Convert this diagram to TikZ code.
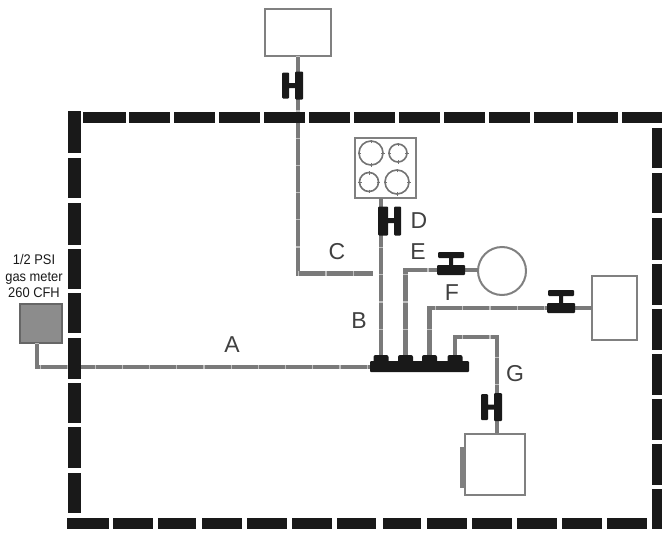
\documentclass[tikz,border=0pt]{standalone}
\usepackage{fontspec}
\setmainfont{Liberation Sans}
\newfontfamily\meterfont[FakeStretch=0.92]{Liberation Sans}
\tikzset{
    wallseg/.style={fill=black!90},
    pipe/.style={draw=black!52, line width=4.4pt, postaction={draw=black!25, dash pattern=on 1.2pt off 26pt}},
    appliance/.style={draw=black!50, line width=2pt, fill=white, inner sep=0pt, outer sep=0pt},
    burner/.style={circle, draw=black!55, line width=1.6pt, inner sep=0pt, outer sep=0pt},
    letter/.style={text=black!75, font=\fontsize{23}{23}\selectfont, inner sep=0pt},
    valvepart/.style={fill=black!90, rounded corners=1pt}
}
\newcommand{\valveup}[1]{\path[valvepart] ([shift={(-14,-5)}]#1) rectangle ([shift={(14,5)}]#1) ([shift={(-13,-18)}]#1) rectangle ([shift={(13,-12)}]#1) ([shift={(-2,-13)}]#1) rectangle ([shift={(2,-4)}]#1)}
\newcommand{\valveleft}[1]{\path[valvepart] ([shift={(-3,-14)}]#1) rectangle ([shift={(5,14)}]#1) ([shift={(-16,-13)}]#1) rectangle ([shift={(-9,13)}]#1) ([shift={(-10,-2.5)}]#1) rectangle ([shift={(-2,2.5)}]#1)}
\newcommand{\valveright}[1]{\path[valvepart] ([shift={(-4,-14)}]#1) rectangle ([shift={(6,15)}]#1) ([shift={(12,-14)}]#1) rectangle ([shift={(19,15)}]#1) ([shift={(5,-2.5)}]#1) rectangle ([shift={(13,2.5)}]#1)}
\begin{document}
\begin{tikzpicture}[x=1pt, y=-1pt]
                \useasboundingbox (0,0) rectangle (662,533);

                \node[appliance, minimum width=66pt, minimum height=47pt] (heater) at (298,32.5) {};
                \node[appliance, minimum width=61pt, minimum height=60pt] (range) at (385.5,168) {};
                \node[appliance, circle, minimum size=48pt] (dryer) at (502,271) {};
                \node[appliance, minimum width=45pt, minimum height=64pt] (furnace) at (614.5,308) {};
                \node[appliance, minimum width=60pt, minimum height=61pt] (waterheater) at (495,464.5) {};
                \node[appliance, draw=black!60, fill=black!45, minimum width=42pt, minimum height=39pt] (meter) at (41,323.5) {};
                \node[fill=black!90, rounded corners=1pt, minimum width=99pt, minimum height=11pt, inner sep=0pt] (manifold) at (419.5,366.5) {};

                \node[burner, minimum size=24pt] (burnera) at (371,153) {};
                \node[burner, minimum size=18pt] (burnerb) at (398,153) {};
                \node[burner, minimum size=19pt] (burnerc) at (369,182) {};
                \node[burner, minimum size=24pt] (burnerd) at (397,182) {};

                \coordinate (tapb) at (381,357);
                \coordinate (tape) at (405.5,357);
                \coordinate (tapf) at (429.5,357);
                \coordinate (tapg) at (455,357);
                \coordinate (bendc) at (298,273.5);
                \coordinate (endc) at (373,273.5);
                \coordinate (bende) at (405.5,270);
                \coordinate (bendf) at (429.5,308);
                \coordinate (bendga) at (455,337);
                \coordinate (bendgb) at (497,337);
                \coordinate (bendm) at (37,367);
                \coordinate (valveh) at (298,85.5);
                \coordinate (valved) at (382,220.5);
                \coordinate (valvee) at (451,270);
                \coordinate (valvef) at (561,308);
                \coordinate (valveg) at (497,407);

                \draw[pipe] (heater.south) -- (bendc) -- (endc);
                \draw[pipe] (tapb) -- (tapb |- range.south);
                \draw[pipe] (tape) -- (bende) -- (dryer.west |- bende);
                \draw[pipe] (tapf) -- (bendf) -- (furnace.west);
                \draw[pipe] (tapg) -- (bendga) -- (bendgb) -- (bendgb |- waterheater.north);
                \draw[pipe] (meter.south -| bendm) -- (bendm) -- (manifold.west |- bendm);

                \draw[appliance, fill=none] (waterheater.north west) rectangle (waterheater.south east);
                \draw[draw=black!50, line width=4.5pt] (462.5,447) -- (462.5,488);

                \foreach \tapname in {tapb, tape, tapf, tapg}
                    \fill[black!90, rounded corners=2pt] ([shift={(-7.5,-2)}]\tapname) rectangle ([shift={(7.5,6)}]\tapname);

                \foreach \burnername/\rad in {burnera/12, burnerb/9, burnerc/9.5, burnerd/12}
                    \foreach \ang in {0, 90, 180, 270}
                        \draw[black!55, line width=1pt] ([shift={(\ang:\rad-2)}]\burnername.center) -- ([shift={(\ang:\rad+1.5)}]\burnername.center);

                \valveleft{valveh};
                \valveright{valved};
                \valveup{valvee};
                \valveup{valvef};
                \valveleft{valveg};

                \foreach \a/\b in {83/126, 129/170, 174/215, 219/260, 264/305, 309/350, 354/395, 399/440, 444/485, 489/530, 534/573, 577/618, 622/662}
                    \fill[wallseg] (\a,112) rectangle (\b,123);
                \foreach \a/\b in {67/109, 113/153, 158/196, 202/242, 247/287, 292/332, 337/376, 383/421, 427/467, 472/512, 517/557, 562/602, 607/647, 652/662}
                    \fill[wallseg] (\a,518) rectangle (\b,529);
                \foreach \a/\b in {111/153, 158/198, 203/245, 249/289, 293/333, 338/379, 383/423, 427/468, 473/513}
                    \fill[wallseg] (67.5,\a) rectangle (80.5,\b);
                \foreach \a/\b in {128/168, 173/213, 218/260, 264/305, 309/350, 354/395, 399/440, 444/485, 489/518}
                    \fill[wallseg] (652,\a) rectangle (662,\b);

                \node[letter] (labela) at (232,345) {A};
                \node[letter] (labelb) at (359,321) {B};
                \node[letter] (labelc) at (337,252) {C};
                \node[letter] (labeld) at (419,221) {D};
                \node[letter] (labele) at (418,252) {E};
                \node[letter] (labelf) at (452,293) {F};
                \node[letter] (labelg) at (515,374) {G};
                \node[align=center, inner sep=0pt, text=black!90, font=\meterfont\fontsize{14}{16.5}\selectfont] (meterlabel) at (34,276) {1/2 PSI\\gas meter\\260 CFH};
            \end{tikzpicture}
\end{document}
